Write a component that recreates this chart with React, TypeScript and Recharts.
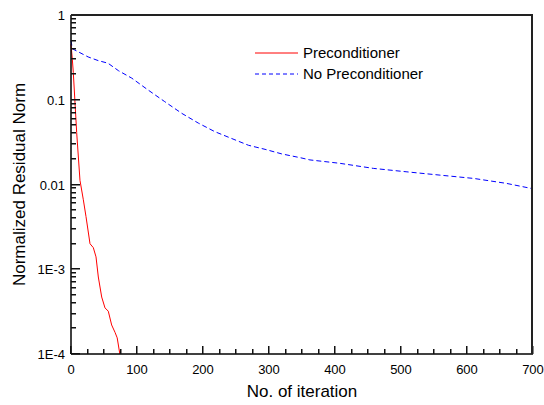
import React from 'react';
import { LineChart, Line, XAxis, YAxis } from 'recharts';

// iteration vs normalized residual norm
const precondIter = [0, 2, 3.5, 8.6, 13.6, 18.7, 22.7, 28.8, 33.8, 37.9, 41.4, 46.5, 51.5, 56.5, 61.6, 66.7, 70, 74];
const precondNorm = [0.45, 0.3, 0.21, 0.041, 0.0112, 0.0066, 0.0042, 0.002, 0.0018, 0.0014, 0.00081, 0.00047, 0.00035, 0.00032, 0.00022, 0.00018, 0.000155, 0.0001];

const noPrecondIter = [0, 2, 26, 41, 56, 72, 92, 117, 142, 168, 193, 218, 243, 269, 294, 319, 350, 362, 407, 458, 509, 559, 610, 660, 700];
const noPrecondNorm = [0.5, 0.4, 0.32, 0.29, 0.27, 0.22, 0.18, 0.13, 0.095, 0.069, 0.053, 0.042, 0.035, 0.029, 0.026, 0.023, 0.0205, 0.0195, 0.0178, 0.0155, 0.0141, 0.0129, 0.0118, 0.0103, 0.0089];

const xTicks = [0, 25, 50, 75, 100, 125, 150, 175, 200, 225, 250, 275, 300, 325, 350, 375, 400, 425, 450, 475, 500, 525, 550, 575, 600, 625, 650, 675, 700];
const decades = [1e-4, 1e-3, 0.01, 0.1, 1];
const decadeLabels = ['1E-4', '1E-3', '0.01', '0.1', '1'];
const yTicks = [1e-4, 2e-4, 3e-4, 4e-4, 5e-4, 6e-4, 7e-4, 8e-4, 9e-4, 1e-3, 2e-3, 3e-3, 4e-3, 5e-3, 6e-3, 7e-3, 8e-3, 9e-3, 0.01, 0.02, 0.03, 0.04, 0.05, 0.06, 0.07, 0.08, 0.09, 0.1, 0.2, 0.3, 0.4, 0.5, 0.6, 0.7, 0.8, 0.9, 1];

const FONT = '"Liberation Sans", Arial, sans-serif';

const precondData = precondIter.map((x, i) => ({ x, y: precondNorm[i] }));
const noPrecondData = noPrecondIter.map((x, i) => ({ x, y: noPrecondNorm[i] }));

const XTick = (props: any) => {
  const { x, y, payload } = props;
  const major = Math.round(payload.value) % 100 === 0;
  const len = major ? 8 : 5;
  return (
    <g>
      <rect x={Math.round(x) - 1} y={y - len} width={1.5} height={len} fill="#111" />
      {major && (
        <text x={x} y={y + 20} textAnchor="middle" fontSize={13} fontFamily={FONT} fill="#000">
          {payload.value}
        </text>
      )}
    </g>
  );
};

const YTick = (props: any) => {
  const { x, y, payload } = props;
  const v = payload.value;
  const idx = decades.findIndex((d) => Math.abs(d - v) / d < 1e-6);
  const major = idx >= 0;
  return (
    <g>
      <rect x={x} y={Math.round(y) - 1} width={major ? 9 : 5} height={1.5} fill="#111" />
      {major && (
        <text x={x - 6} y={y + 5} textAnchor="end" fontSize={13} fontFamily={FONT} fill="#000">
          {decadeLabels[idx]}
        </text>
      )}
    </g>
  );
};

export default function App() {
  return (
    <div style={{ position: 'absolute', left: 0, top: 0, width: 544, height: 405, background: '#fff' }}>
      <LineChart width={544} height={405} margin={{ top: 15, right: 11, bottom: 0, left: 0 }}>
        <XAxis
          type="number"
          dataKey="x"
          domain={[0, 700]}
          ticks={xTicks}
          interval={0}
          height={51}
          tickSize={0}
          tickMargin={0}
          tickLine={false}
          tick={<XTick />}
          axisLine={{ stroke: '#000', strokeWidth: 1.5 }}
          label={{
            content: (p: any) => (
              <text x={p.viewBox.x + p.viewBox.width / 2} y={p.viewBox.y + 43} textAnchor="middle" fontSize={17} fontFamily={FONT} fill="#000">
                No. of iteration
              </text>
            ),
          }}
        />
        <YAxis
          type="number"
          dataKey="y"
          scale="log"
          domain={[1e-4, 1]}
          ticks={yTicks}
          interval={0}
          width={71}
          tickSize={0}
          tickMargin={0}
          tickLine={false}
          tick={<YTick />}
          axisLine={{ stroke: '#000', strokeWidth: 1.5 }}
          label={{
            content: (p: any) => {
              const cx = p.viewBox.x + 19;
              const cy = p.viewBox.y + p.viewBox.height / 2;
              return (
                <text x={cx} y={cy} transform={`rotate(-90 ${cx} ${cy})`} textAnchor="middle" dominantBaseline="central" fontSize={17} fontFamily={FONT} fill="#000">
                  Normalized Residual Norm
                </text>
              );
            },
          }}
        />
        <Line
          data={precondData}
          dataKey="y"
          type="linear"
          stroke="#ff0000"
          strokeWidth={1}
          dot={false}
          isAnimationActive={false}
          name="Preconditioner"
        />
        <Line
          data={noPrecondData}
          dataKey="y"
          type="linear"
          stroke="#0000ff"
          strokeWidth={1}
          strokeDasharray="5 3"
          dot={false}
          isAnimationActive={false}
          name="No Preconditioner"
        />
      </LineChart>
      {/* top and right frame of the plot box */}
      <div
        style={{
          position: 'absolute',
          left: 71,
          top: 14,
          width: 462,
          height: 340,
          boxSizing: 'border-box',
          borderTop: '2px solid #222',
          borderRight: '2px solid #222',
          pointerEvents: 'none',
        }}
      />
      <svg width={200} height={45} style={{ position: 'absolute', left: 255, top: 43 }}>
        <line x1={0} x2={43} y1={10} y2={10} stroke="#ff0000" strokeWidth={1} />
        <text x={48} y={15} fontSize={15} fontFamily={FONT} fill="#000">Preconditioner</text>
        <line x1={0} x2={43} y1={31} y2={31} stroke="#0000ff" strokeWidth={1} strokeDasharray="4 3" />
        <text x={48} y={36} fontSize={15} fontFamily={FONT} fill="#000">No Preconditioner</text>
      </svg>
    </div>
  );
}
